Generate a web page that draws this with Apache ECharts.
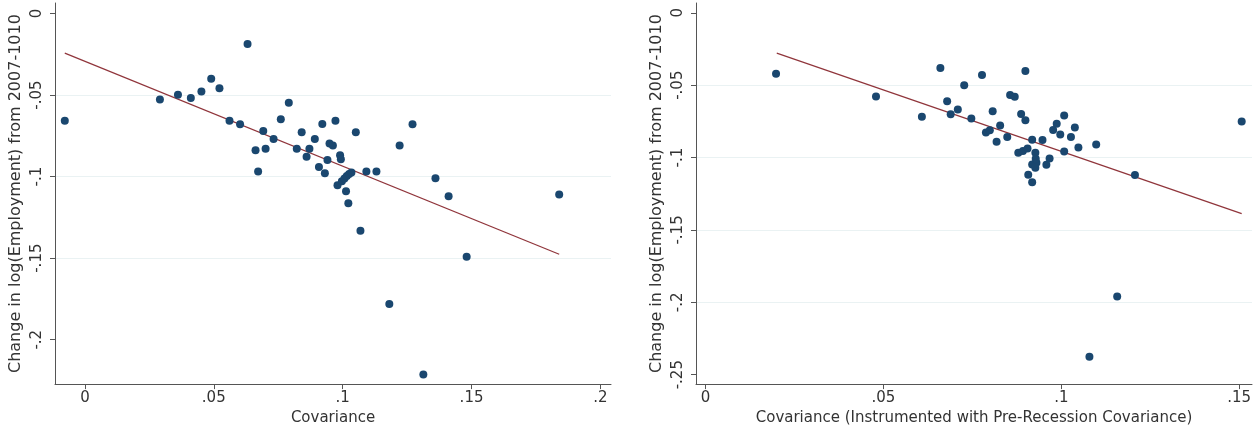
<!DOCTYPE html>
<html>
<head>
<meta charset="utf-8">
<script src="https://cdn.jsdelivr.net/npm/echarts@6/dist/echarts.min.js"></script>
<style>
  html, body { margin: 0; padding: 0; background: #fff; }
  #chart { width: 1257px; height: 431px; }
</style>
</head>
<body>
<div id="chart"></div>
<script>
// left panel: covariance vs change in log employment
const covX = [-0.0078, 0.0291, 0.0361, 0.0411, 0.0452, 0.0490, 0.0522, 0.0631, 0.0561, 0.0602,
  0.0760, 0.0791, 0.0692, 0.0732, 0.0662, 0.0701, 0.0672, 0.0841, 0.0822, 0.0871,
  0.0892, 0.0860, 0.0921, 0.0972, 0.0908, 0.0931, 0.0949, 0.0962, 0.0941, 0.0990,
  0.0993, 0.1051, 0.0980, 0.0997, 0.1007, 0.1016, 0.1025, 0.1034, 0.1013, 0.1022,
  0.1092, 0.1131, 0.1069, 0.1221, 0.1271, 0.1360, 0.1411, 0.1481, 0.1181, 0.1313, 0.1840];
const covY = [-0.0658, -0.0528, -0.0499, -0.0518, -0.0479, -0.0400, -0.0459, -0.0188, -0.0658, -0.0679,
  -0.0648, -0.0548, -0.0720, -0.0770, -0.0839, -0.0830, -0.0969, -0.0729, -0.0830, -0.0829,
  -0.0769, -0.0878, -0.0677, -0.0658, -0.0941, -0.0980, -0.0797, -0.0809, -0.0898, -0.0870,
  -0.0894, -0.0729, -0.1053, -0.1029, -0.1012, -0.0996, -0.0984, -0.0975, -0.1090, -0.1163,
  -0.0969, -0.0969, -0.1332, -0.0809, -0.0679, -0.1010, -0.1120, -0.1492, -0.1781, -0.2213, -0.1110];
const covFitX = [-0.0078, 0.184];
const covFitY = [-0.0243, -0.1476];

// right panel: instrumented covariance
const ivX = [0.0198, 0.0479, 0.0608, 0.0660, 0.0679, 0.0689, 0.0709, 0.0727, 0.0747, 0.0777,
  0.0788, 0.0799, 0.0807, 0.0818, 0.0828, 0.0848, 0.0856, 0.0869, 0.0899, 0.0887,
  0.0899, 0.0879, 0.0892, 0.0905, 0.0918, 0.0927, 0.0918, 0.0930, 0.0927, 0.0928,
  0.0907, 0.0918, 0.0947, 0.0958, 0.0967, 0.0977, 0.0987, 0.1008, 0.0997, 0.1008,
  0.1027, 0.1038, 0.1048, 0.1098, 0.1207, 0.1507, 0.1157, 0.1079];
const ivY = [-0.0420, -0.0578, -0.0718, -0.0381, -0.0611, -0.0701, -0.0668, -0.0501, -0.0730, -0.0429,
  -0.0827, -0.0812, -0.0680, -0.0890, -0.0779, -0.0858, -0.0568, -0.0580, -0.0402, -0.0699,
  -0.0742, -0.0967, -0.0955, -0.0938, -0.0876, -0.0966, -0.1048, -0.1036, -0.1070, -0.1008,
  -0.1119, -0.1170, -0.0879, -0.1050, -0.1007, -0.0809, -0.0766, -0.0710, -0.0841, -0.0958,
  -0.0858, -0.0792, -0.0931, -0.0909, -0.1120, -0.0750, -0.1959, -0.2376];
const ivFitX = [0.0200, 0.1507];
const ivFitY = [-0.0278, -0.1387];

const leftXTicks = [0, 0.05, 0.1, 0.15, 0.2];
const leftYTicks = [0, -0.05, -0.1, -0.15, -0.2];
const rightXTicks = [0, 0.05, 0.1, 0.15];
const rightYTicks = [0, -0.05, -0.1, -0.15, -0.2, -0.25];

const yTitle = 'Change in log(Employment) from 2007-1010';

function zip(xs, ys) {
  return xs.map((x, i) => [x, ys[i]]);
}

// stata style: .05, -.1, 0
function stataFmt(v) {
  if (Math.abs(v) < 1e-9) return '0';
  return String(+v.toFixed(3)).replace('0.', '.');
}

const font = 'DejaVu Sans';
const textColor = '#333';
const axisColor = '#555';

function makeX(gridIndex, min, max, ticks, name) {
  return {
    type: 'value', gridIndex: gridIndex, min: min, max: max,
    name: name, nameLocation: 'middle', nameGap: 26,
    nameTextStyle: { fontFamily: font, fontSize: 15, color: textColor },
    axisLine: { show: true, onZero: false, lineStyle: { color: axisColor, width: 1 } },
    axisTick: { show: true, length: 5, customValues: ticks, lineStyle: { color: axisColor } },
    axisLabel: { customValues: ticks, formatter: stataFmt, margin: 7,
      fontFamily: font, fontSize: 15, color: textColor },
    splitLine: { show: false }
  };
}

function makeY(gridIndex, min, max, ticks) {
  return {
    type: 'value', gridIndex: gridIndex, min: min, max: max,
    name: yTitle, nameLocation: 'middle', nameGap: 31, nameRotate: 90,
    nameTextStyle: { fontFamily: font, fontSize: 16, color: textColor },
    axisLine: { show: true, onZero: false, lineStyle: { color: axisColor, width: 1 } },
    axisTick: { show: true, length: 5, customValues: ticks, lineStyle: { color: axisColor } },
    axisLabel: { customValues: ticks, formatter: stataFmt, rotate: 90, margin: 10,
      fontFamily: font, fontSize: 15, color: textColor },
    splitLine: { show: true, showMinLine: false, showMaxLine: false,
      lineStyle: { color: '#eaf2f3', width: 1 } }
  };
}

const chart = echarts.init(document.getElementById('chart'));

const option = {
  backgroundColor: '#fff',
  animation: false,
  grid: [
    { left: 55, top: 3, width: 556, height: 383 },
    { left: 696, top: 3, width: 556, height: 383 }
  ],
  xAxis: [
    makeX(0, -0.0116, 0.2041, leftXTicks, 'Covariance'),
    makeX(1, -0.0027, 0.1536, rightXTicks, 'Covariance (Instrumented with Pre-Recession Covariance)')
  ],
  yAxis: [
    makeY(0, -0.2272, 0.0064, leftYTicks),
    makeY(1, -0.2565, 0.0068, rightYTicks)
  ],
  series: [
    {
      type: 'line', xAxisIndex: 0, yAxisIndex: 0, data: zip(covFitX, covFitY),
      showSymbol: false, lineStyle: { color: '#90353b', width: 1.2 }, z: 2
    },
    {
      type: 'scatter', xAxisIndex: 0, yAxisIndex: 0, data: zip(covX, covY),
      symbolSize: 8, itemStyle: { color: '#1a476f', opacity: 1 }, z: 3
    },
    {
      type: 'line', xAxisIndex: 1, yAxisIndex: 1, data: zip(ivFitX, ivFitY),
      showSymbol: false, lineStyle: { color: '#90353b', width: 1.2 }, z: 2
    },
    {
      type: 'scatter', xAxisIndex: 1, yAxisIndex: 1, data: zip(ivX, ivY),
      symbolSize: 8, itemStyle: { color: '#1a476f', opacity: 1 }, z: 3
    }
  ]
};

chart.setOption(option);
</script>
</body>
</html>
